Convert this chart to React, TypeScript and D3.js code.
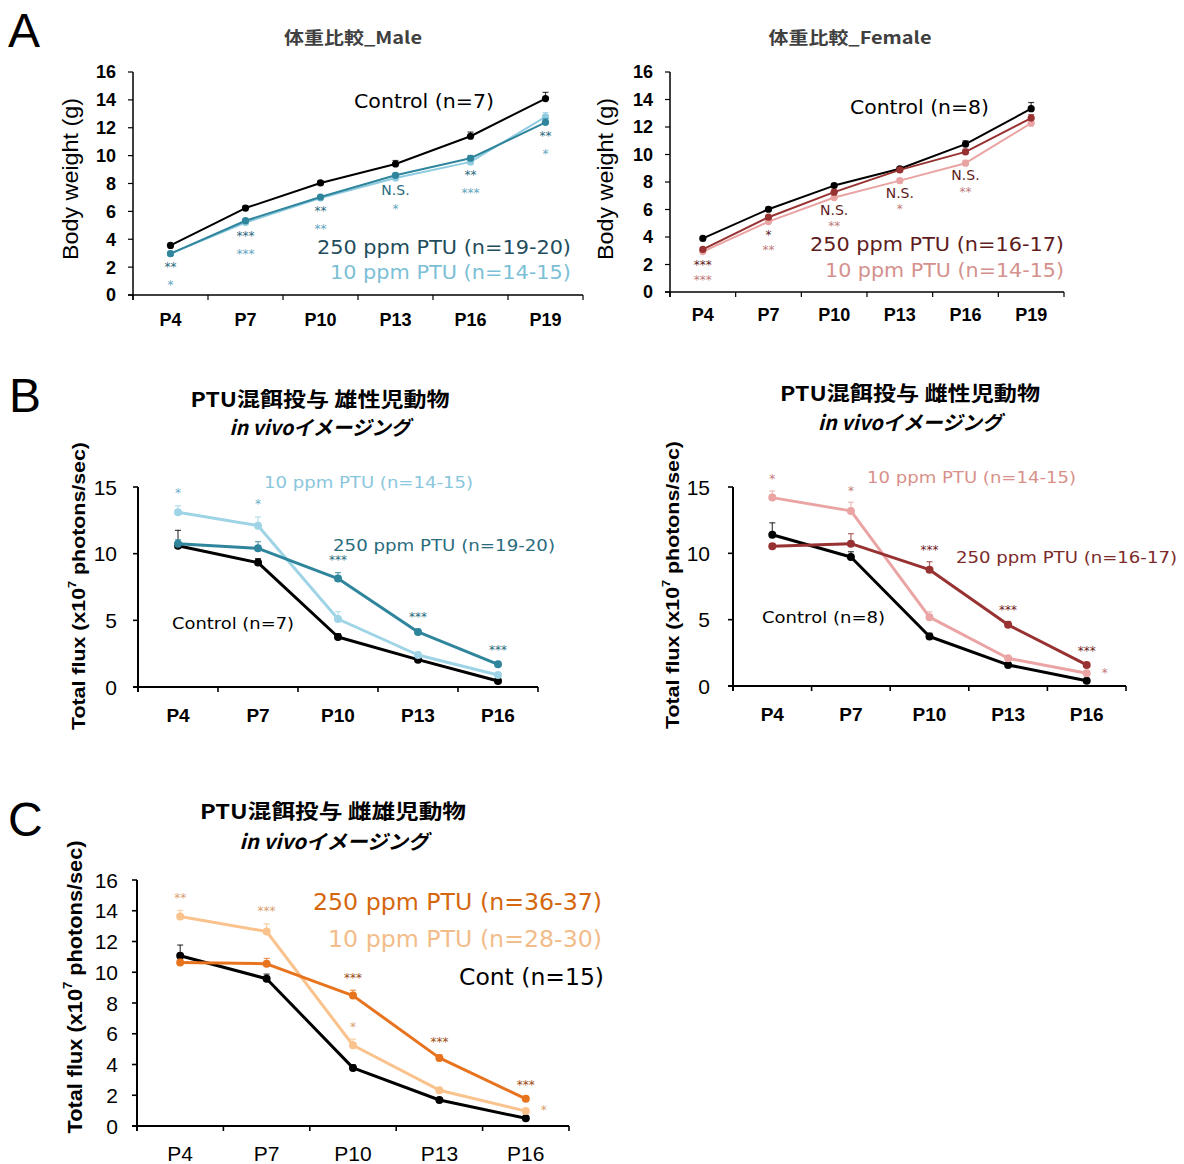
import React from "react";
import * as d3 from "d3";

// ---------- categories & ticks ----------
const daysWeight = ["P4", "P7", "P10", "P13", "P16", "P19"];
const daysFlux = ["P4", "P7", "P10", "P13", "P16"];
const weightTicks = [0, 2, 4, 6, 8, 10, 12, 14, 16];
const fluxTicksB = [0, 5, 10, 15];
const fluxTicksC = [0, 2, 4, 6, 8, 10, 12, 14, 16];

// ---------- A: body weight, male ----------
const maleWeightControl = [3.56, 6.24, 8.04, 9.4, 11.39, 14.09];
const maleWeightControlErr = [0.1, 0.15, 0.15, 0.25, 0.3, 0.45];
const maleWeight250 = [2.97, 5.33, 7.03, 8.59, 9.81, 12.39];
const maleWeight250Err = [0.1, 0.12, 0.12, 0.15, 0.2, 0.25];
const maleWeight10 = [2.97, 5.2, 6.96, 8.4, 9.55, 12.78];
const maleWeight10Err = [0.1, 0.12, 0.12, 0.15, 0.2, 0.3];
const maleWeightStars250 = ["**", "***", "**", "N.S.", "**", "**"];
const maleWeightStars10 = ["*", "***", "**", "*", "***", "*"];

// ---------- A: body weight, female ----------
const femaleWeightControl = [3.9, 6.02, 7.74, 8.96, 10.75, 13.33];
const femaleWeightControlErr = [0.1, 0.15, 0.15, 0.15, 0.25, 0.45];
const femaleWeight250 = [3.1, 5.44, 7.26, 8.88, 10.19, 12.65];
const femaleWeight250Err = [0.1, 0.12, 0.15, 0.15, 0.2, 0.25];
const femaleWeight10 = [2.94, 5.12, 6.87, 8.1, 9.37, 12.28];
const femaleWeight10Err = [0.1, 0.12, 0.15, 0.15, 0.2, 0.25];
const femaleWeightStars250 = ["***", "*", "N.S.", "N.S.", "N.S.", ""];
const femaleWeightStars10 = ["***", "**", "**", "*", "**", ""];

// ---------- B: total flux, male ----------
const maleFluxControl = [10.6, 9.33, 3.75, 2.05, 0.45];
const maleFluxControlErr = [1.15, 0.3, 0.25, 0.1, 0.05];
const maleFlux250 = [10.75, 10.4, 8.13, 4.13, 1.7];
const maleFlux250Err = [0.3, 0.5, 0.45, 0.2, 0.1];
const maleFlux10 = [13.1, 12.1, 5.1, 2.4, 0.9];
const maleFlux10Err = [0.5, 0.65, 0.55, 0.2, 0.1];
const maleFluxStars250 = ["", "", "***", "***", "***"];
const maleFluxStars10 = ["*", "*", "", "", ""];

// ---------- B: total flux, female ----------
const femaleFluxControl = [11.4, 9.72, 3.73, 1.59, 0.4];
const femaleFluxControlErr = [0.9, 0.4, 0.25, 0.1, 0.05];
const femaleFlux250 = [10.53, 10.73, 8.77, 4.61, 1.59];
const femaleFlux250Err = [0.2, 0.75, 0.6, 0.25, 0.15];
const femaleFlux10 = [14.2, 13.2, 5.19, 2.09, 0.96];
const femaleFlux10Err = [0.5, 0.65, 0.4, 0.15, 0.1];
const femaleFluxStars250 = ["", "", "***", "***", "***"];
const femaleFluxStars10 = ["*", "*", "", "", "*"];

// ---------- C: total flux, both sexes ----------
const bothFluxControl = [11.07, 9.58, 3.78, 1.69, 0.5];
const bothFluxControlErr = [0.7, 0.3, 0.2, 0.1, 0.05];
const bothFlux250 = [10.64, 10.55, 8.48, 4.43, 1.77];
const bothFlux250Err = [0.2, 0.35, 0.35, 0.2, 0.1];
const bothFlux10 = [13.62, 12.65, 5.25, 2.33, 0.97];
const bothFlux10Err = [0.4, 0.5, 0.4, 0.15, 0.1];
const bothFluxStars250 = ["", "", "***", "***", "***"];
const bothFluxStars10 = ["**", "***", "*", "", "*"];

// ---------- fonts ----------
const ARIAL = "'Liberation Sans', Arial, sans-serif";
const VERDANA = "'DejaVu Sans', Verdana, sans-serif";
const CJK = "'Noto Sans CJK JP', 'Liberation Sans', sans-serif";

type Series = {
  values: number[];
  err: number[];
  color: string;
  starColor?: string;
  stars?: string[];
  starMode?: "below1" | "below2" | "above";
  sideIndex?: number;
};

type Cfg = {
  x0: number;
  x1: number;
  y0: number;
  yTopPx: number;
  yMax: number;
  categories: string[];
  yTicks: number[];
  tickSize: number;
  tickWeight: string;
  tickGap: number;
  xSize: number;
  xWeight: string;
  xLabelCy: number;
  axisWidth: number;
  lineWidth: number;
  r: number;
  series: Series[];
  belowRefs?: number[];
  starBelow1?: number;
  starBelow2?: number;
  starAbove?: number;
};

function Panel({ cfg }: { cfg: Cfg }) {
  const x = d3.scaleBand<string>().domain(cfg.categories).range([cfg.x0, cfg.x1]).padding(0);
  const y = d3.scaleLinear().domain([0, cfg.yMax]).range([cfg.y0, cfg.yTopPx]);
  const cx = (c: string) => (x(c) as number) + x.bandwidth() / 2;
  const line = d3
    .line<number>()
    .x((_, i) => cx(cfg.categories[i]))
    .y((d) => y(d));
  const boundaries = cfg.categories.map((c) => x(c) as number).concat([cfg.x1]);
  const refs = cfg.belowRefs || [];

  const starEls: React.ReactNode[] = [];
  cfg.series.forEach((s, si) => {
    if (!s.stars) return;
    s.stars.forEach((lab, i) => {
      if (!lab) return;
      const px = cx(cfg.categories[i]);
      let cy: number;
      let sx = px;
      if (s.starMode === "above") {
        if (s.sideIndex === i) {
          sx = px + 18;
          cy = y(s.values[i]) - 2;
        } else {
          cy = y(s.values[i] + s.err[i]) - (cfg.starAbove ?? 14);
        }
      } else {
        const base = Math.max(...refs.map((ri) => y(cfg.series[ri].values[i])));
        cy = base + (s.starMode === "below1" ? cfg.starBelow1 ?? 13 : cfg.starBelow2 ?? 30);
      }
      const isNS = lab === "N.S.";
      const fs = isNS ? 14 : 12;
      starEls.push(
        <text
          key={`st-${si}-${i}`}
          x={sx}
          y={isNS ? cy + fs * 0.36 : cy + fs * 0.45}
          textAnchor="middle"
          fontFamily={VERDANA}
          fontSize={fs}
          fill={s.starColor || s.color}
        >
          {lab}
        </text>
      );
    });
  });

  return (
    <g>
      <line x1={cfg.x0} x2={cfg.x0} y1={cfg.yTopPx} y2={cfg.y0 + 5} stroke="#000" strokeWidth={cfg.axisWidth} />
      <line x1={cfg.x0 - 5} x2={cfg.x1} y1={cfg.y0} y2={cfg.y0} stroke="#000" strokeWidth={cfg.axisWidth} />
      {cfg.yTicks.map((t) => (
        <g key={`yt${t}`}>
          <line x1={cfg.x0 - 5} x2={cfg.x0} y1={y(t)} y2={y(t)} stroke="#000" strokeWidth={cfg.axisWidth * 0.8} />
          <text
            x={cfg.x0 - cfg.tickGap}
            y={y(t) + cfg.tickSize * 0.36}
            textAnchor="end"
            fontFamily={ARIAL}
            fontSize={cfg.tickSize}
            fontWeight={cfg.tickWeight}
          >
            {t}
          </text>
        </g>
      ))}
      {boundaries.map((b, i) => (
        <line key={`xb${i}`} x1={b} x2={b} y1={cfg.y0} y2={cfg.y0 + 5} stroke="#000" strokeWidth={cfg.axisWidth * 0.8} />
      ))}
      {cfg.categories.map((c) => (
        <text
          key={`xl${c}`}
          x={cx(c)}
          y={cfg.xLabelCy + cfg.xSize * 0.36}
          textAnchor="middle"
          fontFamily={ARIAL}
          fontSize={cfg.xSize}
          fontWeight={cfg.xWeight}
        >
          {c}
        </text>
      ))}
      {cfg.series.map((s, si) => (
        <g key={`s${si}`}>
          {s.values.map((v, i) => {
            const px = cx(cfg.categories[i]);
            const top = y(v + s.err[i]);
            return (
              <g key={`e${i}`} stroke={s.color} strokeOpacity={0.75} strokeWidth={1.2}>
                <line x1={px} x2={px} y1={y(v)} y2={top} />
                <line x1={px - 3} x2={px + 3} y1={top} y2={top} />
              </g>
            );
          })}
          <path d={line(s.values) || ""} fill="none" stroke={s.color} strokeWidth={cfg.lineWidth} strokeLinejoin="round" />
          {s.values.map((v, i) => (
            <circle key={`p${i}`} cx={cx(cfg.categories[i])} cy={y(v)} r={cfg.r} fill={s.color} />
          ))}
        </g>
      ))}
      {starEls}
    </g>
  );
}

function Legend({ x, cy, w, fs, color, text }: { x: number; cy: number; w: number; fs: number; color: string; text: string }) {
  return (
    <text x={x} y={cy + fs * 0.31} fontFamily={VERDANA} fontSize={fs} fill={color} textLength={w} lengthAdjust="spacingAndGlyphs">
      {text}
    </text>
  );
}

function Title({ cx, cy, w, fs, text, italic, color }: { cx: number; cy: number; w: number; fs: number; text: string; italic?: boolean; color?: string }) {
  return (
    <text
      x={cx}
      y={cy + fs * 0.38}
      textAnchor="middle"
      fontFamily={CJK}
      fontWeight="bold"
      fontStyle={italic ? "italic" : "normal"}
      fontSize={fs}
      fill={color || "#000"}
      textLength={w}
      lengthAdjust="spacingAndGlyphs"
    >
      {text}
    </text>
  );
}

function YLabel({ x, cy, fs, w, weight, flux }: { x: number; cy: number; fs: number; w: number; weight: string; flux: boolean }) {
  return (
    <text
      transform={`translate(${x},${cy}) rotate(-90)`}
      textAnchor="middle"
      dominantBaseline="central"
      fontFamily={ARIAL}
      fontSize={fs}
      fontWeight={weight}
      textLength={w}
      lengthAdjust="spacingAndGlyphs"
    >
      {flux ? (
        <>
          Total flux (x10
          <tspan fontSize={fs * 0.6} baselineShift="super">7</tspan>
          <tspan> photons/sec)</tspan>
        </>
      ) : (
        "Body weight (g)"
      )}
    </text>
  );
}

const TEAL = "#2F859C";
const LBLUE = "#8FCBE0";
const DRED = "#983232";
const PINK = "#E9A3A3";
const ORANGE = "#E8731E";
const LORANGE = "#FAC28C";

export default function App() {
  const maleA: Cfg = {
    x0: 133, x1: 583, y0: 295, yTopPx: 72, yMax: 16,
    categories: daysWeight, yTicks: weightTicks,
    tickSize: 18, tickWeight: "bold", tickGap: 17,
    xSize: 18, xWeight: "bold", xLabelCy: 320,
    axisWidth: 1.5, lineWidth: 2, r: 3.6,
    belowRefs: [1, 2], starBelow1: 12, starBelow2: 30,
    series: [
      { values: maleWeightControl, err: maleWeightControlErr, color: "#000" },
      { values: maleWeight10, err: maleWeight10Err, color: LBLUE, stars: maleWeightStars10, starMode: "below2", starColor: "#5FA6C0" },
      { values: maleWeight250, err: maleWeight250Err, color: TEAL, stars: maleWeightStars250, starMode: "below1", starColor: "#2A6A7C" },
    ],
  };
  const femaleA: Cfg = {
    x0: 670, x1: 1064, y0: 292, yTopPx: 72, yMax: 16,
    categories: daysWeight, yTicks: weightTicks,
    tickSize: 18, tickWeight: "bold", tickGap: 17,
    xSize: 18, xWeight: "bold", xLabelCy: 315,
    axisWidth: 1.5, lineWidth: 2, r: 3.6,
    belowRefs: [1, 2], starBelow1: 12, starBelow2: 27,
    series: [
      { values: femaleWeightControl, err: femaleWeightControlErr, color: "#000" },
      { values: femaleWeight10, err: femaleWeight10Err, color: PINK, stars: femaleWeightStars10, starMode: "below2", starColor: "#C07C7C" },
      { values: femaleWeight250, err: femaleWeight250Err, color: DRED, stars: femaleWeightStars250, starMode: "below1", starColor: "#5E1C1C" },
    ],
  };
  const maleB: Cfg = {
    x0: 138, x1: 538, y0: 687, yTopPx: 487, yMax: 15,
    categories: daysFlux, yTicks: fluxTicksB,
    tickSize: 21, tickWeight: "normal", tickGap: 21,
    xSize: 19, xWeight: "bold", xLabelCy: 715,
    axisWidth: 2, lineWidth: 3, r: 4,
    starAbove: 14,
    series: [
      { values: maleFluxControl, err: maleFluxControlErr, color: "#000" },
      { values: maleFlux10, err: maleFlux10Err, color: "#9ED4E6", stars: maleFluxStars10, starMode: "above", starColor: "#6AAEC8" },
      { values: maleFlux250, err: maleFlux250Err, color: TEAL, stars: maleFluxStars250, starMode: "above", starColor: "#2A6A7C" },
    ],
  };
  const femaleB: Cfg = {
    x0: 733, x1: 1126, y0: 686, yTopPx: 487, yMax: 15,
    categories: daysFlux, yTicks: fluxTicksB,
    tickSize: 21, tickWeight: "normal", tickGap: 23,
    xSize: 19, xWeight: "bold", xLabelCy: 714,
    axisWidth: 2, lineWidth: 3, r: 4,
    starAbove: 13,
    series: [
      { values: femaleFluxControl, err: femaleFluxControlErr, color: "#000" },
      { values: femaleFlux10, err: femaleFlux10Err, color: "#EBA4A4", stars: femaleFluxStars10, starMode: "above", starColor: "#C47A7A", sideIndex: 4 },
      { values: femaleFlux250, err: femaleFlux250Err, color: DRED, stars: femaleFluxStars250, starMode: "above", starColor: "#6E2222" },
    ],
  };
  const bothC: Cfg = {
    x0: 137, x1: 569, y0: 1126, yTopPx: 880, yMax: 16,
    categories: daysFlux, yTicks: fluxTicksC,
    tickSize: 21, tickWeight: "normal", tickGap: 19,
    xSize: 21, xWeight: "normal", xLabelCy: 1153,
    axisWidth: 2, lineWidth: 3, r: 4,
    starAbove: 14,
    series: [
      { values: bothFluxControl, err: bothFluxControlErr, color: "#000" },
      { values: bothFlux10, err: bothFlux10Err, color: LORANGE, stars: bothFluxStars10, starMode: "above", starColor: "#D8A070", sideIndex: 4 },
      { values: bothFlux250, err: bothFlux250Err, color: ORANGE, stars: bothFluxStars250, starMode: "above", starColor: "#9A4A10" },
    ],
  };

  return (
    <svg width={1184} height={1164} style={{ position: "absolute", left: 0, top: 0, background: "#fff" }}>
      <rect width={1184} height={1164} fill="#fff" />
      <text x={8} y={47} fontFamily={ARIAL} fontSize={48}>A</text>
      <text x={9} y={412} fontFamily={ARIAL} fontSize={48}>B</text>
      <text x={8} y={836} fontFamily={ARIAL} fontSize={48}>C</text>

      {/* A male */}
      <Title cx={353} cy={38} w={138} fs={17} text="体重比較_Male" color="#404040" />
      <YLabel x={70} cy={179} fs={22} w={162} weight="normal" flux={false} />
      <Panel cfg={maleA} />
      <Legend x={354} cy={102} w={140} fs={20} color="#000" text="Control (n=7)" />
      <Legend x={317} cy={248} w={254} fs={20} color="#1F4D5C" text="250 ppm PTU (n=19-20)" />
      <Legend x={330} cy={273} w={241} fs={20} color="#7CBFD6" text="10 ppm PTU (n=14-15)" />

      {/* A female */}
      <Title cx={850} cy={38} w={163} fs={17} text="体重比較_Female" color="#404040" />
      <YLabel x={605} cy={179} fs={22} w={162} weight="normal" flux={false} />
      <Panel cfg={femaleA} />
      <Legend x={850} cy={108} w={139} fs={20} color="#000" text="Control (n=8)" />
      <Legend x={810} cy={245} w={254} fs={20} color="#5E1C1C" text="250 ppm PTU (n=16-17)" />
      <Legend x={825} cy={271} w={239} fs={20} color="#D4918D" text="10 ppm PTU (n=14-15)" />

      {/* B male */}
      <Title cx={320} cy={399} w={259} fs={20} text="PTU混餌投与 雄性児動物" />
      <Title cx={320} cy={427} w={181} fs={20} text="in vivoイメージング" italic />
      <YLabel x={78} cy={586} fs={19} w={288} weight="bold" flux />
      <Panel cfg={maleB} />
      <Legend x={264} cy={483} w={209} fs={16.5} color="#8AC6DC" text="10 ppm PTU (n=14-15)" />
      <Legend x={333} cy={546} w={222} fs={16.5} color="#2A6C7E" text="250 ppm PTU (n=19-20)" />
      <Legend x={172} cy={624} w={122} fs={16.5} color="#000" text="Control (n=7)" />

      {/* B female */}
      <Title cx={910} cy={393} w={260} fs={20} text="PTU混餌投与 雌性児動物" />
      <Title cx={910} cy={422} w={184} fs={20} text="in vivoイメージング" italic />
      <YLabel x={672} cy={585} fs={19} w={288} weight="bold" flux />
      <Panel cfg={femaleB} />
      <Legend x={867} cy={478} w={209} fs={16.5} color="#D8918A" text="10 ppm PTU (n=14-15)" />
      <Legend x={956} cy={558} w={221} fs={16.5} color="#7B2A2A" text="250 ppm PTU (n=16-17)" />
      <Legend x={762} cy={618} w={123} fs={16.5} color="#000" text="Control (n=8)" />

      {/* C */}
      <Title cx={333} cy={811} w={266} fs={20} text="PTU混餌投与 雌雄児動物" />
      <Title cx={334} cy={841} w={189} fs={20} text="in vivoイメージング" italic />
      <YLabel x={75} cy={987} fs={20} w={293} weight="bold" flux />
      <Panel cfg={bothC} />
      <Legend x={313} cy={903} w={289} fs={23} color="#D4670F" text="250 ppm PTU (n=36-37)" />
      <Legend x={328} cy={940} w={274} fs={23} color="#F2BD8A" text="10 ppm PTU (n=28-30)" />
      <Legend x={459} cy={978} w={145} fs={23} color="#000" text="Cont (n=15)" />
    </svg>
  );
}
